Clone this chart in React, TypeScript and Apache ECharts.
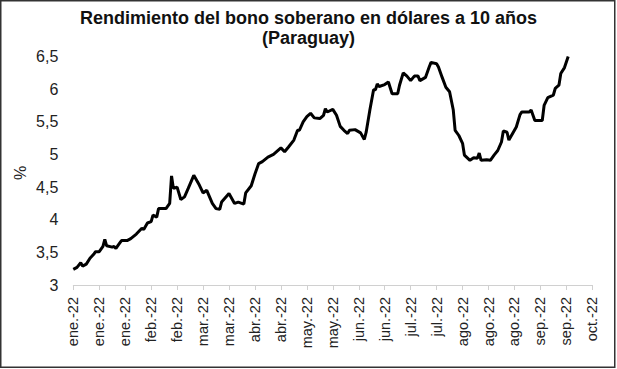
import React, { useEffect, useRef } from "react";
import * as echarts from "echarts";

const titleLines = ["Rendimiento del bono soberano en dólares a 10 años", "(Paraguay)"];
const yAxisName = "%";
const monthNames = ["ene", "feb", "mar", "abr", "may", "jun", "jul", "ago", "sep", "oct", "nov", "dic"];
const axisStart = "2022-01-03";
const axisDays = 280;
const tickStepDays = 14;
const yMin = 3;
const yMax = 6.5;
const yStep = 0.5;

const dates = [
  "2022-01-03", "2022-01-05", "2022-01-07", "2022-01-08", "2022-01-10", "2022-01-12", "2022-01-14", "2022-01-15",
  "2022-01-17", "2022-01-19", "2022-01-20", "2022-01-21", "2022-01-24", "2022-01-25", "2022-01-26", "2022-01-28",
  "2022-01-29", "2022-02-01", "2022-02-03", "2022-02-06", "2022-02-09", "2022-02-10", "2022-02-12", "2022-02-14",
  "2022-02-15", "2022-02-17", "2022-02-18", "2022-02-22", "2022-02-24", "2022-02-25", "2022-02-26", "2022-02-28",
  "2022-03-02", "2022-03-04", "2022-03-06", "2022-03-09", "2022-03-12", "2022-03-14", "2022-03-16", "2022-03-19",
  "2022-03-21", "2022-03-23", "2022-03-24", "2022-03-28", "2022-03-31", "2022-04-02", "2022-04-05", "2022-04-06",
  "2022-04-09", "2022-04-11", "2022-04-13", "2022-04-15", "2022-04-18", "2022-04-21", "2022-04-23", "2022-04-25",
  "2022-04-27", "2022-04-29", "2022-05-02", "2022-05-04", "2022-05-05", "2022-05-07", "2022-05-09", "2022-05-11",
  "2022-05-13", "2022-05-16", "2022-05-18", "2022-05-19", "2022-05-20", "2022-05-23", "2022-05-25", "2022-05-27",
  "2022-05-29", "2022-05-31", "2022-06-01", "2022-06-04", "2022-06-07", "2022-06-09", "2022-06-10", "2022-06-12",
  "2022-06-14", "2022-06-15", "2022-06-16", "2022-06-17", "2022-06-20", "2022-06-22", "2022-06-24", "2022-06-27",
  "2022-06-28", "2022-06-30", "2022-07-02", "2022-07-04", "2022-07-06", "2022-07-08", "2022-07-09", "2022-07-12",
  "2022-07-14", "2022-07-15", "2022-07-18", "2022-07-19", "2022-07-21", "2022-07-23", "2022-07-25", "2022-07-27",
  "2022-07-28", "2022-07-30", "2022-08-01", "2022-08-02", "2022-08-05", "2022-08-07", "2022-08-09", "2022-08-10",
  "2022-08-11", "2022-08-14", "2022-08-16", "2022-08-18", "2022-08-20", "2022-08-22", "2022-08-23", "2022-08-25",
  "2022-08-26", "2022-08-29", "2022-08-30", "2022-09-01", "2022-09-02", "2022-09-06", "2022-09-07", "2022-09-09",
  "2022-09-13", "2022-09-14", "2022-09-16", "2022-09-19", "2022-09-20", "2022-09-22", "2022-09-23", "2022-09-25",
  "2022-09-27",
];

const yields = [
  3.24, 3.27, 3.34, 3.29, 3.32, 3.41, 3.47, 3.51,
  3.51, 3.59, 3.70, 3.60, 3.58, 3.59, 3.56, 3.64,
  3.68, 3.68, 3.71, 3.78, 3.87, 3.85, 3.95, 3.97,
  4.07, 4.04, 4.17, 4.17, 4.25, 4.67, 4.48, 4.50,
  4.31, 4.35, 4.48, 4.68, 4.53, 4.41, 4.45, 4.25,
  4.17, 4.16, 4.27, 4.40, 4.25, 4.27, 4.24, 4.41,
  4.52, 4.70, 4.86, 4.89, 4.96, 5.00, 5.05, 5.10,
  5.04, 5.11, 5.22, 5.37, 5.37, 5.50, 5.58, 5.63,
  5.56, 5.55, 5.60, 5.70, 5.65, 5.69, 5.60, 5.43,
  5.37, 5.32, 5.37, 5.38, 5.33, 5.23, 5.34, 5.68,
  5.99, 5.99, 6.08, 6.04, 6.07, 6.11, 5.93, 5.93,
  6.06, 6.25, 6.20, 6.13, 6.20, 6.20, 6.13, 6.18,
  6.34, 6.41, 6.39, 6.34, 6.18, 6.03, 5.96, 5.68,
  5.37, 5.29, 5.17, 4.99, 4.91, 4.95, 4.94, 5.02,
  4.91, 4.92, 4.91, 4.99, 5.06, 5.19, 5.36, 5.34,
  5.22, 5.37, 5.42, 5.61, 5.65, 5.65, 5.68, 5.52,
  5.52, 5.75, 5.87, 5.91, 6.01, 6.06, 6.24, 6.33,
  6.50,
];

const DAY = 86400000;
const startMs = Date.parse(axisStart);

export default function App() {
  const ref = useRef<HTMLDivElement>(null);
  useEffect(() => {
    if (!ref.current) return;
    const chart = echarts.init(ref.current, null, { renderer: "svg" });
    const seriesData = dates.map((d, i) => [(Date.parse(d) - startMs) / DAY, yields[i]]);
    const font = "Liberation Sans, Arial, sans-serif";
    chart.setOption({
      animation: false,
      backgroundColor: "#ffffff",
      title: {
        text: titleLines.join("\n"),
        left: "center",
        top: 3,
        textStyle: { fontFamily: font, fontSize: 18, fontWeight: "bold", color: "#111", lineHeight: 20 },
      },
      graphic: [
        {
          type: "rect",
          shape: { x: 0.75, y: 0.75, width: 614, height: 366.5 },
          style: { fill: "none", stroke: "#333", lineWidth: 1.5 },
          silent: true,
        },
        {
          type: "text",
          x: 20,
          y: 173,
          rotation: Math.PI / 2,
          style: { text: yAxisName, fontFamily: font, fontSize: 16, fill: "#222", align: "center", verticalAlign: "middle" },
        },
      ],
      grid: { left: 73.3, right: 24.7, top: 56.5, bottom: 84, containLabel: false },
      xAxis: {
        type: "value",
        min: 0,
        max: axisDays,
        interval: tickStepDays,
        axisLine: { show: true, lineStyle: { color: "#d0d0d0", width: 1 } },
        axisTick: { show: true, length: 5, lineStyle: { color: "#d0d0d0" } },
        splitLine: { show: false },
        axisLabel: {
          rotate: 90,
          margin: 12,
          fontFamily: font,
          fontSize: 14.5,
          color: "#222",
          showMaxLabel: true,
          showMinLabel: true,
          formatter: (v: number) => {
            const dt = new Date(startMs + v * DAY);
            return monthNames[dt.getUTCMonth()] + ".-" + String(dt.getUTCFullYear()).slice(2);
          },
        },
      },
      yAxis: {
        type: "value",
        min: yMin,
        max: yMax,
        interval: yStep,
        axisLine: { show: false },
        axisTick: { show: false },
        splitLine: { show: false },
        axisLabel: {
          margin: 15,
          fontFamily: font,
          fontSize: 16,
          color: "#222",
          formatter: (v: number) => String(v).replace(".", ","),
        },
      },
      series: [
        {
          type: "line",
          data: seriesData,
          showSymbol: false,
          lineStyle: { color: "#000", width: 3 },
          itemStyle: { color: "#000" },
        },
      ],
    });
    return () => chart.dispose();
  }, []);
  return (
    <div
      ref={ref}
      style={{ position: "fixed", left: 0, top: 0, width: 617, height: 369 }}
    />
  );
}
